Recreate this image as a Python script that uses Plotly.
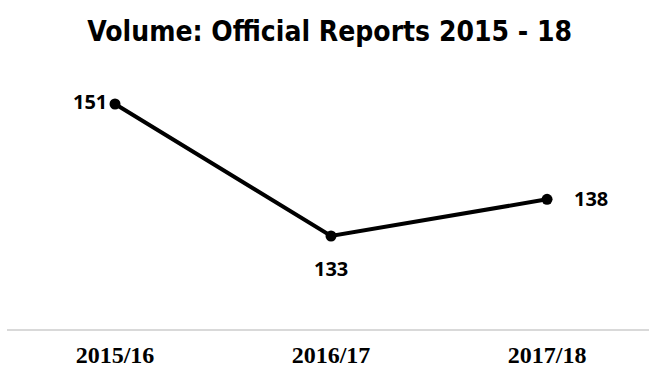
import plotly.graph_objects as go

categories = ["2015/16", "2016/17", "2017/18"]
values = [151, 133, 138]
label_shift_x = [-25, 0, 44]
label_shift_y = [3, -33, 1]

fig = go.Figure()
fig.add_trace(go.Scatter(
    x=list(range(len(categories))), y=values, mode="lines+markers",
    line=dict(color="black", width=4),
    marker=dict(color="black", size=11),
    hoverinfo="skip",
))
for i, v in enumerate(values):
    fig.add_annotation(x=i, y=v, text=f"<b>{v}</b>", showarrow=False,
                       xshift=label_shift_x[i], yshift=label_shift_y[i],
                       font=dict(family="Open Sans", size=20, color="black"))

fig.update_layout(
    width=649, height=370,
    margin=dict(l=7, r=0, t=60, b=40, autoexpand=False),
    paper_bgcolor="white", plot_bgcolor="white",
    showlegend=False,
    title=dict(text="<b>Volume: Official Reports 2015 - 18</b>",
               x=0.508, xanchor="center", y=0.915, yanchor="middle",
               font=dict(family="DejaVu Sans Condensed", size=28, color="black")),
    xaxis=dict(range=[-0.5, 2.472], tickmode="array", automargin=False,
               tickvals=list(range(len(categories))), ticktext=[f"<b>{c}</b>" for c in categories],
               showgrid=False, zeroline=False, showline=False,
               tickfont=dict(family="Liberation Serif", size=24, color="black"),
               ticklabelstandoff=8, ticks=""),
    yaxis=dict(range=[120.18, 157], visible=False),
    shapes=[dict(type="line", xref="paper", yref="paper", x0=0, x1=1, y0=0, y1=0,
                 line=dict(color="#d9d9d9", width=2))],
)
fig.write_html("out.html")
